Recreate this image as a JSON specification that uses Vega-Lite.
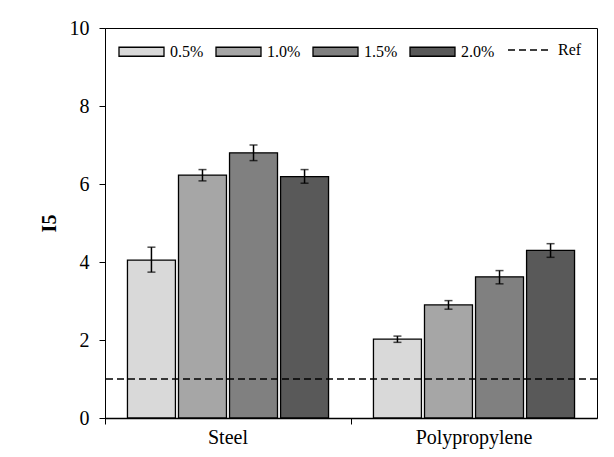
{
  "$schema": "https://vega.github.io/schema/vega-lite/v6.json",
  "autosize": "none",
  "width": 492,
  "height": 390,
  "padding": {"left": 105, "top": 28, "right": 17, "bottom": 39},
  "background": "white",
  "config": {
    "font": "Liberation Serif",
    "view": {"stroke": "black", "strokeWidth": 1},
    "axis": {
      "labelFont": "Liberation Serif",
      "titleFont": "Liberation Serif",
      "labelColor": "black",
      "titleColor": "black",
      "domainColor": "black",
      "tickColor": "black",
      "grid": false
    }
  },
  "datasets": {
    "bars": [
      {"fibre": "Steel", "dosage": "0.5%", "value": 4.05, "lo": 3.74, "hi": 4.38},
      {"fibre": "Steel", "dosage": "1.0%", "value": 6.23, "lo": 6.08, "hi": 6.37},
      {"fibre": "Steel", "dosage": "1.5%", "value": 6.8, "lo": 6.6, "hi": 7.0},
      {"fibre": "Steel", "dosage": "2.0%", "value": 6.19, "lo": 6.02, "hi": 6.37},
      {"fibre": "Polypropylene", "dosage": "0.5%", "value": 2.02, "lo": 1.94, "hi": 2.1},
      {"fibre": "Polypropylene", "dosage": "1.0%", "value": 2.9, "lo": 2.79, "hi": 3.01},
      {"fibre": "Polypropylene", "dosage": "1.5%", "value": 3.62, "lo": 3.44, "hi": 3.78},
      {"fibre": "Polypropylene", "dosage": "2.0%", "value": 4.3, "lo": 4.12, "hi": 4.47}
    ],
    "reference": [
      {"series": "Ref", "level": 1}
    ]
  },
  "layer": [
    {
      "data": {"name": "bars"},
      "mark": {"type": "bar", "stroke": "black", "strokeWidth": 1.3},
      "encoding": {
        "x": {
          "field": "fibre",
          "type": "nominal",
          "sort": ["Steel", "Polypropylene"],
          "scale": {"paddingInner": 0, "paddingOuter": 0},
          "axis": {
            "title": null,
            "labelAngle": 0,
            "labelFontSize": 20,
            "labelPadding": 3,
            "bandPosition": 0,
            "tickSize": 6,
            "domainWidth": 1.5,
            "tickWidth": 1
          }
        },
        "xOffset": {
          "field": "dosage",
          "type": "nominal",
          "sort": ["0.5%", "1.0%", "1.5%", "2.0%"],
          "scale": {"paddingInner": 0.06, "paddingOuter": 0.44}
        },
        "y": {
          "field": "value",
          "type": "quantitative",
          "title": "I5",
          "scale": {"domain": [0, 10], "nice": false},
          "axis": {
            "values": [0, 2, 4, 6, 8, 10],
            "labelFontSize": 20,
            "labelPadding": 10,
            "tickSize": 6,
            "titleFontSize": 20,
            "titleFontWeight": "bold",
            "titlePadding": 10
          }
        },
        "color": {
          "field": "dosage",
          "type": "nominal",
          "sort": ["0.5%", "1.0%", "1.5%", "2.0%"],
          "scale": {
            "domain": ["0.5%", "1.0%", "1.5%", "2.0%"],
            "range": ["#d9d9d9", "#a6a6a6", "#808080", "#595959"]
          },
          "legend": {
            "title": null,
            "orient": "none",
            "direction": "horizontal",
            "legendX": 13,
            "legendY": 0,
            "padding": 0,
            "symbolType": "M-1,-0.2H1V0.2H-1Z",
            "symbolSize": 2025,
            "symbolStrokeColor": "black",
            "symbolStrokeWidth": 1.3,
            "symbolOpacity": 1,
            "labelFont": "Liberation Serif",
            "labelFontSize": 16,
            "labelColor": "black",
            "labelOffset": 5,
            "columnPadding": 9
          }
        }
      }
    },
    {
      "data": {"name": "bars"},
      "mark": {"type": "rule", "color": "black", "strokeWidth": 1.5},
      "encoding": {
        "x": {"field": "fibre", "type": "nominal", "sort": ["Steel", "Polypropylene"]},
        "xOffset": {"field": "dosage", "type": "nominal", "sort": ["0.5%", "1.0%", "1.5%", "2.0%"]},
        "y": {"field": "lo", "type": "quantitative", "title": "I5"},
        "y2": {"field": "hi"}
      }
    },
    {
      "data": {"name": "bars"},
      "mark": {"type": "tick", "color": "black", "size": 8, "thickness": 1.5},
      "encoding": {
        "x": {"field": "fibre", "type": "nominal", "sort": ["Steel", "Polypropylene"]},
        "xOffset": {"field": "dosage", "type": "nominal", "sort": ["0.5%", "1.0%", "1.5%", "2.0%"]},
        "y": {"field": "lo", "type": "quantitative", "title": "I5"}
      }
    },
    {
      "data": {"name": "bars"},
      "mark": {"type": "tick", "color": "black", "size": 8, "thickness": 1.5},
      "encoding": {
        "x": {"field": "fibre", "type": "nominal", "sort": ["Steel", "Polypropylene"]},
        "xOffset": {"field": "dosage", "type": "nominal", "sort": ["0.5%", "1.0%", "1.5%", "2.0%"]},
        "y": {"field": "hi", "type": "quantitative", "title": "I5"}
      }
    },
    {
      "data": {"name": "reference"},
      "mark": {"type": "rule", "color": "black", "strokeWidth": 1.5},
      "encoding": {
        "y": {"field": "level", "type": "quantitative", "title": "I5"},
        "strokeDash": {
          "field": "series",
          "type": "nominal",
          "scale": {"domain": ["Ref"], "range": [[7, 4]]},
          "legend": {
            "title": null,
            "orient": "none",
            "legendX": 402,
            "legendY": 0,
            "padding": 0,
            "symbolType": "stroke",
            "symbolSize": 1764,
            "symbolStrokeColor": "black",
            "symbolStrokeWidth": 1.5,
            "labelFont": "Liberation Serif",
            "labelFontSize": 16,
            "labelColor": "black",
            "labelOffset": 7
          }
        }
      }
    }
  ]
}
